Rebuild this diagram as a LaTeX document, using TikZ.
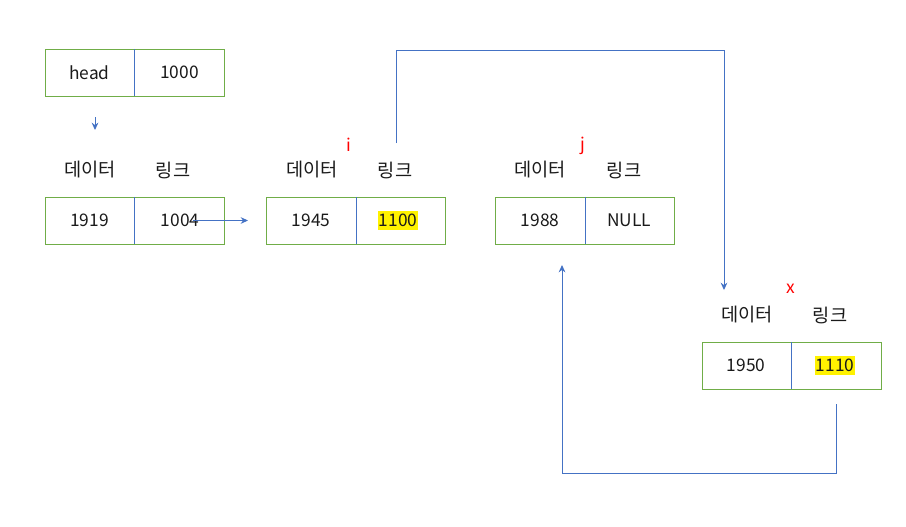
\documentclass[tikz,border=0pt]{standalone}
\usepackage{fontspec}
\setmainfont{Noto Sans CJK KR}
\usetikzlibrary{arrows.meta}
\definecolor{boxgreen}{HTML}{70AD47}
\definecolor{lineblue}{HTML}{4472C4}
\definecolor{txt}{HTML}{1A1A1A}
\begin{document}
\begin{tikzpicture}[x=0.75pt,y=-0.75pt,
  cell/.style={draw=boxgreen,line width=0.75pt,minimum width=134.25pt,minimum height=35.25pt,inner sep=0pt},
  sep/.style={draw=lineblue,line width=0.75pt},
  lbl/.style={font=\fontsize{13}{15}\selectfont,text=txt,inner sep=0pt},
  kor/.style={font=\fontsize{14}{16}\selectfont,text=txt,inner sep=0pt},
  red/.style={font=\fontsize{13}{15}\selectfont,text=red,inner sep=0pt},
  hl/.style={lbl,fill=yellow,inner xsep=0.5pt,inner ysep=2pt},
  conn/.style={draw=lineblue,line width=0.75pt},
  arr/.style={conn,-{Stealth[length=5.5pt,width=5pt]}}]
\useasboundingbox (0,0) rectangle (906,526);

% head box
\node[cell] (hb) at (134.5,72.5) {};
\draw[sep] (134,49) -- (134,96);
\node[lbl] (ht) at (89.5,72.5) {head};
\node[lbl] (hv) at (179.5,72.5) {1000};

% box 1
\node[cell] (b1) at (134.5,220.5) {};
\draw[sep] (134,197) -- (134,244);
\node[lbl] (d1) at (89.5,220.5) {1919};
\node[lbl] (l1) at (180,220.5) {1004};
\node[kor] (dh1) at (90,170) {데이터};
\node[kor] (lh1) at (173,170) {링크};

% box 2
\node[cell] (b2) at (355.5,220.5) {};
\draw[sep] (356,197) -- (356,244);
\node[lbl] (d2) at (311,220.5) {1945};
\node[hl] (l2) at (398,220.5) {1100};
\node[kor] (dh2) at (312,170) {데이터};
\node[kor] (lh2) at (395,170) {링크};
\node[red] (ri) at (349,145) {i};

% box 3
\node[cell] (b3) at (584.5,220.5) {};
\draw[sep] (585,197) -- (585,244);
\node[lbl] (d3) at (540,220.5) {1988};
\node[lbl] (l3) at (629,220.5) {NULL};
\node[kor] (dh3) at (540,170) {데이터};
\node[kor] (lh3) at (624,170) {링크};
\node[red] (rj) at (583,146) {j};

% box 4
\node[cell] (b4) at (791.5,365.5) {};
\draw[sep] (791,342) -- (791,389);
\node[lbl] (d4) at (746,365.5) {1950};
\node[hl] (l4) at (835,365.5) {1110};
\node[kor] (dh4) at (747,315) {데이터};
\node[kor] (lh4) at (830,315) {링크};
\node[red] (rx) at (791,289) {x};

% connectors
\coordinate (a1s) at (95,117);
\coordinate (a1e) at (95,130);
\draw[arr] (a1s) -- (a1e);

\coordinate (a2s) at (193,220.5);
\coordinate (a2e) at (248,220.5);
\draw[arr] (a2s) -- (a2e);

\coordinate (a3s) at (396,143);
\coordinate (a3e) at (724,290);
\draw[arr] (a3s) -- (396,50) -- (724,50) -- (a3e);

\coordinate (a4s) at (836,404);
\coordinate (a4e) at (562,265);
\draw[arr] (a4s) -- (836,473) -- (562,473) -- (a4e);
\end{tikzpicture}
\end{document}
